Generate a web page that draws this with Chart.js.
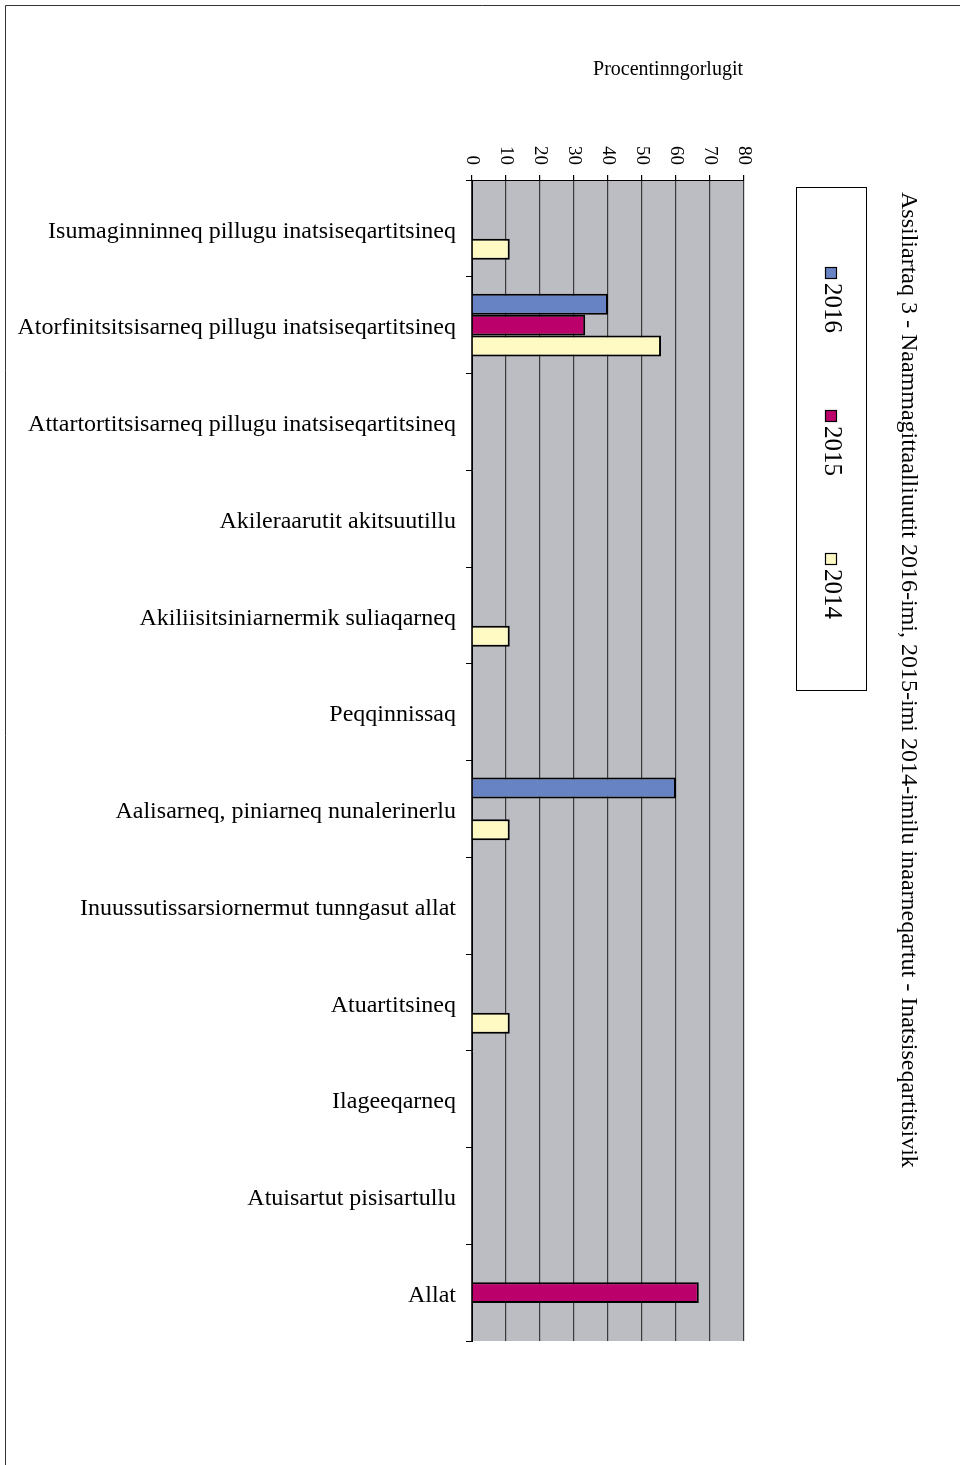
<!DOCTYPE html>
<html>
<head>
<meta charset="utf-8">
<script src="https://cdn.jsdelivr.net/npm/chart.js@4"></script>
<style>
  html, body { margin: 0; padding: 0; background: #fff; }
  #wrap { width: 960px; height: 1465px; }
</style>
</head>
<body>
<div id="wrap"><canvas id="chart" width="960" height="1465"></canvas></div>
<script>
// Categories and series (percent)
const categories = [
  'Isumaginninneq pillugu inatsiseqartitsineq',
  'Atorfinitsitsisarneq pillugu inatsiseqartitsineq',
  'Attartortitsisarneq pillugu inatsiseqartitsineq',
  'Akileraarutit akitsuutillu',
  'Akiliisitsiniarnermik suliaqarneq',
  'Peqqinnissaq',
  'Aalisarneq, piniarneq nunalerinerlu',
  'Inuussutissarsiornermut tunngasut allat',
  'Atuartitsineq',
  'Ilageeqarneq',
  'Atuisartut pisisartullu',
  'Allat'
];
const values2016 = [null, 40, null, null, null, null, 60, null, null, null, null, null];
const values2015 = [null, 33.3, null, null, null, null, null, null, null, null, null, 66.7];
const values2014 = [11.1, 55.6, null, null, 11.1, null, 11.1, null, 11.1, null, null, null];
const xTicks = [0, 10, 20, 30, 40, 50, 60, 70, 80];

const chartTitle = 'Assiliartaq 3 - Naammagittaalliuutit 2016-imi, 2015-imi 2014-imilu inaarneqartut - Inatsiseqartitsivik';
const axisTitle = 'Procentinngorlugit';
const serif = "'Liberation Serif', 'DejaVu Serif', serif";

// Page frame, plot background, rotated tick labels, legend and title
const decorations = {
  id: 'decorations',
  beforeDraw(chart) {
    const ctx = chart.ctx;
    const a = chart.chartArea;
    ctx.save();
    ctx.fillStyle = '#fff';
    ctx.fillRect(0, 0, chart.width, chart.height);
    ctx.strokeStyle = '#333';
    ctx.lineWidth = 1;
    ctx.beginPath();
    ctx.moveTo(960, 5.5);
    ctx.lineTo(5.5, 5.5);
    ctx.lineTo(5.5, 1465);
    ctx.stroke();
    ctx.fillStyle = '#bcbdc2';
    ctx.fillRect(a.left, a.top, a.right - a.left, a.bottom - a.top);
    ctx.restore();
  },
  afterDraw(chart) {
    const ctx = chart.ctx;
    const xs = chart.scales.x;
    ctx.save();
    ctx.fillStyle = '#000';

    // x tick labels, turned clockwise
    ctx.font = '19px ' + serif;
    ctx.textAlign = 'right';
    ctx.textBaseline = 'middle';
    xTicks.forEach(v => {
      ctx.save();
      ctx.translate(xs.getPixelForValue(v), 165);
      ctx.rotate(Math.PI / 2);
      ctx.fillText(String(v), 0, 0);
      ctx.restore();
    });

    // axis title
    ctx.font = '20px ' + serif;
    ctx.textAlign = 'right';
    ctx.fillText(axisTitle, 743, 70);

    // legend box
    ctx.fillStyle = '#fff';
    ctx.fillRect(796, 187, 70, 503);
    ctx.strokeStyle = '#000';
    ctx.lineWidth = 1;
    ctx.strokeRect(796.5, 187.5, 70, 503);
    const items = chart.data.datasets;
    const itemY = [267, 410, 553];
    ctx.font = '25px ' + serif;
    ctx.textAlign = 'left';
    items.forEach((ds, i) => {
      const y = itemY[i];
      ctx.fillStyle = ds.backgroundColor;
      ctx.fillRect(825, y, 11, 11);
      ctx.strokeStyle = '#000';
      ctx.lineWidth = 1.2;
      ctx.strokeRect(825.5, y + 0.5, 11, 11);
      ctx.fillStyle = '#000';
      ctx.save();
      ctx.translate(832, y + 16);
      ctx.rotate(Math.PI / 2);
      ctx.fillText(ds.label, 0, 0);
      ctx.restore();
    });

    // chart title, turned clockwise
    ctx.font = '24px ' + serif;
    ctx.save();
    ctx.translate(908, 192);
    ctx.rotate(Math.PI / 2);
    ctx.fillText(chartTitle, 0, 0);
    ctx.restore();

    ctx.restore();
  }
};

const ctx = document.getElementById('chart').getContext('2d');
const chart = new Chart(ctx, {
  type: 'bar',
  data: {
    labels: categories,
    datasets: [
      { label: '2016', data: values2016, backgroundColor: '#6783c3' },
      { label: '2015', data: values2015, backgroundColor: '#bb006b' },
      { label: '2014', data: values2014, backgroundColor: '#fff9c4' }
    ].map(ds => Object.assign(ds, {
      borderColor: '#000',
      borderWidth: 2,
      categoryPercentage: 0.65,
      barPercentage: 1.0
    }))
  },
  options: {
    indexAxis: 'y',
    responsive: false,
    animation: false,
    layout: { padding: { top: 0, left: 0, right: 216, bottom: 124 } },
    plugins: {
      legend: { display: false },
      title: { display: false },
      tooltip: { enabled: false }
    },
    scales: {
      x: {
        position: 'top',
        min: 0,
        max: 80,
        ticks: { display: false, stepSize: 10 },
        grid: { color: '#3a3a3a', lineWidth: 1.2, drawTicks: true, tickLength: 5, tickColor: '#000' },
        border: { display: true, color: '#000', width: 1 },
        afterFit(scale) { scale.height = 180; }
      },
      y: {
        ticks: {
          color: '#000',
          padding: 10,
          labelOffset: 3,
          font: { family: serif, size: 24 }
        },
        grid: { drawOnChartArea: false, drawTicks: true, tickLength: 6, color: '#000' },
        border: { display: true, color: '#000', width: 1 },
        afterFit(scale) { scale.width = 472; }
      }
    }
  },
  plugins: [decorations]
});
</script>
</body>
</html>
